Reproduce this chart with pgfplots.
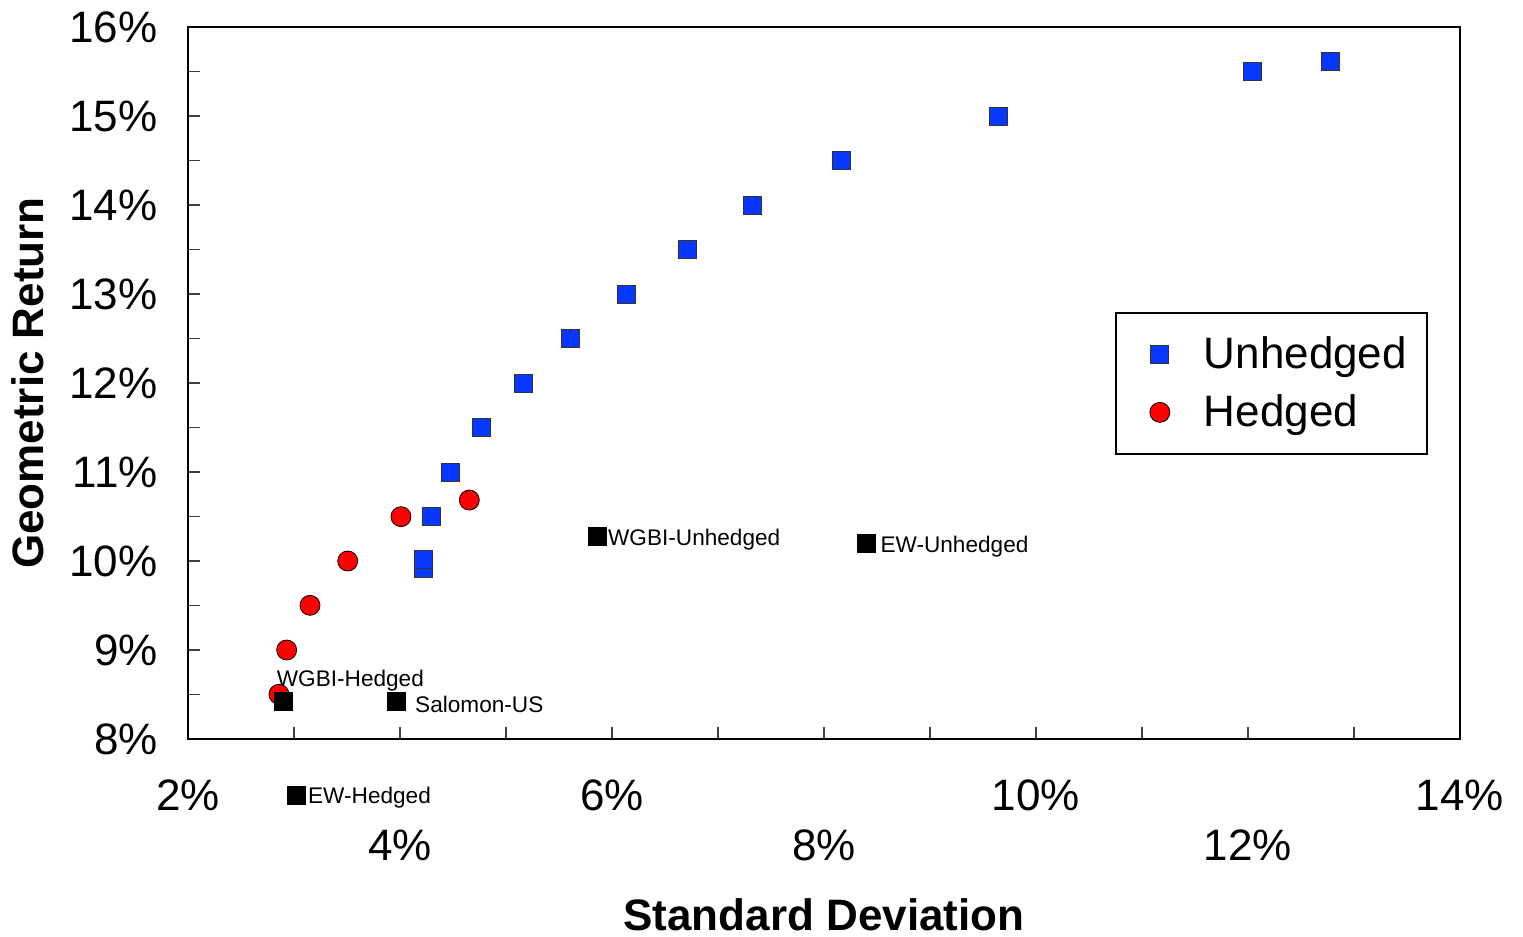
\documentclass[border=0pt]{standalone}
\usepackage{pgfplots}
\pgfplotsset{compat=1.18}
\usepackage{fontspec}
\setmainfont{Liberation Sans}
\newcommand\bigf{\fontsize{22}{26}\selectfont}
\newcommand\smallf{\fontsize{11.3}{13}\selectfont}
\definecolor{ublue}{RGB}{8,56,255}
\begin{document}
\begin{tikzpicture}
\useasboundingbox (-94pt,-99pt) rectangle (667.5pt,369.5pt);
\begin{axis}[
  scale only axis, width=636pt, height=356pt,
  xmin=2, xmax=14, ymin=8, ymax=16,
  clip=false,
  axis line style={line width=1.4pt},
  tick style={black!75, line width=0.6pt},
  major tick length=6pt, minor tick length=6pt,
  xtick pos=left, ytick pos=left,
  xtick={2,3,...,14},
  xticklabels={2\%,,,,6\%,,,,10\%,,,,14\%},
  ytick={8,9,...,16},
  yticklabels={8\%,9\%,10\%,11\%,12\%,13\%,14\%,15\%,16\%},
  minor ytick={8.5,9.5,...,15.5},
  xticklabel style={font=\bigf, anchor=center, inner sep=0pt, yshift=-28pt},
  yticklabel style={font=\bigf, anchor=east, inner sep=0pt, xshift=-15pt},
  extra x ticks={4,8,12},
  extra x tick labels={4\%,8\%,12\%},
  extra x tick style={xticklabel style={yshift=-25pt}},
  xlabel={\bfseries Standard Deviation},
  ylabel={\bfseries Geometric Return},
  xlabel style={font=\bigf, at={(axis description cs:0.5,-0.2472)}, anchor=center, inner sep=0pt},
  ylabel style={font=\bigf, at={(axis description cs:-0.1258,0.5)}, anchor=center, inner sep=0pt},
  legend style={at={(axis description cs:0.9748,0.5997)}, anchor=north east,
    draw=black, line width=1pt, font=\bigf, inner xsep=8pt, inner ysep=10pt, row sep=7.5pt},
  legend cell align=left,
  legend image code/.code={\path (-13.5pt,0pt) (19.5pt,0pt);
    \draw[#1] plot coordinates {(0pt,0pt)};},
]
\addplot[only marks, mark=square*, mark size=4.5pt,
  mark options={fill=ublue, draw=black!80, line width=0.4pt}] coordinates {
  (4.217,9.92) (4.217,10.02) (4.30,10.5) (4.48,11.0) (4.77,11.5) (5.16,12.0)
  (5.61,12.5) (6.14,13.0) (6.71,13.5) (7.32,14.0) (8.16,14.5) (9.65,15.0)
  (12.04,15.5) (12.777,15.614)
};
\addlegendentry{Unhedged}
\addplot[only marks, mark=*, mark size=5pt,
  mark options={fill=red, draw=black, line width=0.4pt}] coordinates {
  (2.858,8.502) (2.931,9.0) (3.151,9.502) (3.507,10.0) (4.009,10.498) (4.654,10.685)
};
\addlegendentry{Hedged}
\addplot[only marks, mark=square*, mark size=4.5pt, forget plot,
  mark options={fill=black, draw=black, line width=0.4pt}] coordinates {
  (2.899,8.42) (3.962,8.427) (5.862,10.273) (8.403,10.199) (3.025,7.37)
};
\node[anchor=west, inner sep=0pt, font=\smallf, yshift=-1.5pt] at (axis cs:2.835,8.685) {WGBI-Hedged};
\node[anchor=west, inner sep=0pt, font=\smallf, yshift=-1.5pt] at (axis cs:4.14,8.427) {Salomon-US};
\node[anchor=west, inner sep=0pt, font=\smallf, yshift=-1.5pt] at (axis cs:5.96,10.273) {WGBI-Unhedged};
\node[anchor=west, inner sep=0pt, font=\smallf, yshift=-1.5pt] at (axis cs:8.53,10.199) {EW-Unhedged};
\node[anchor=west, inner sep=0pt, font=\smallf, yshift=-1.5pt] at (axis cs:3.13,7.37) {EW-Hedged};
\end{axis}
\end{tikzpicture}
\end{document}
